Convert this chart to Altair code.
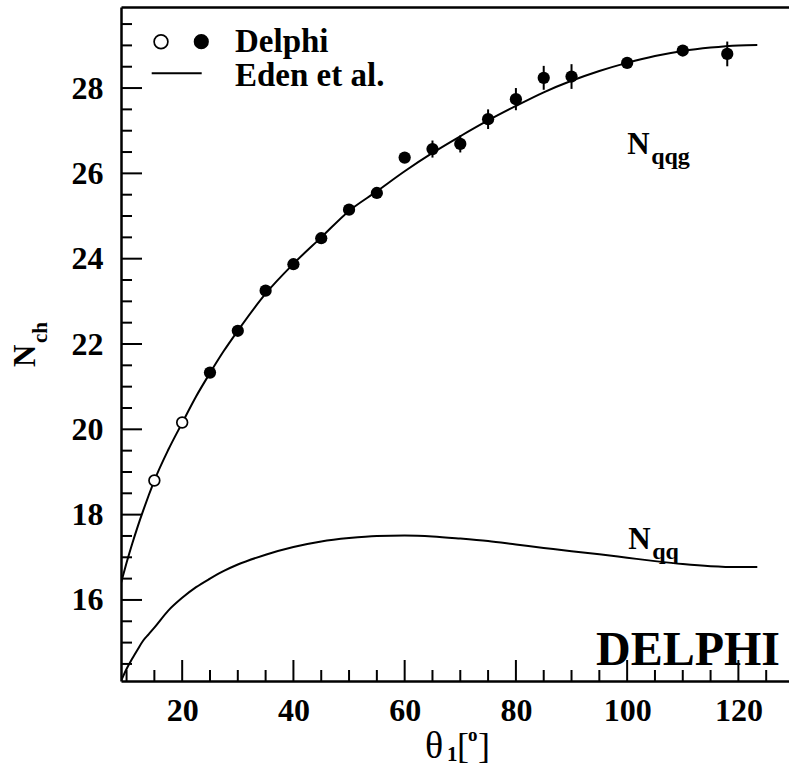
import altair as alt
import pandas as pd

# ---- measured multiplicities (open symbols: first two angles) ----
theta_open = [15, 20]
nch_open = [18.80, 20.16]
err_open = [0.08, 0.08]

theta_full = [25, 30, 35, 40, 45, 50, 55, 60, 65, 70, 75, 80, 85, 90, 100, 110, 118]
nch_full = [21.33, 22.31, 23.25, 23.87, 24.48, 25.15, 25.54, 26.37, 26.57, 26.69,
            27.27, 27.74, 28.24, 28.27, 28.59, 28.88, 28.80]
err_full = [0.08, 0.08, 0.08, 0.08, 0.08, 0.10, 0.10, 0.12, 0.20, 0.20,
            0.23, 0.26, 0.28, 0.29, 0.10, 0.10, 0.29]

# ---- Eden et al. predictions ----
theta_curve = [9, 10, 11, 12, 13, 14, 15, 17.5, 20, 22.5, 25, 27.5, 30, 35, 40, 45, 50,
               55, 60, 65, 70, 75, 80, 85, 90, 95, 100, 105, 110, 115, 120, 123.4]
n_qqg = [16.40, 16.87, 17.31, 17.72, 18.10, 18.46, 18.80, 19.52, 20.15, 20.77, 21.32,
         21.84, 22.31, 23.18, 23.88, 24.50, 25.12, 25.58, 26.05, 26.48, 26.87, 27.24,
         27.58, 27.90, 28.17, 28.40, 28.59, 28.75, 28.87, 28.95, 29.00, 29.01]
n_qq = [14.10, 14.38, 14.62, 14.84, 15.05, 15.20, 15.35, 15.75, 16.05, 16.30, 16.50,
        16.68, 16.83, 17.06, 17.24, 17.37, 17.45, 17.50, 17.51, 17.49, 17.44, 17.38,
        17.30, 17.22, 17.14, 17.07, 16.99, 16.91, 16.84, 16.79, 16.77, 16.77]

x_major = [20, 40, 60, 80, 100, 120]
x_minor = [10, 15, 25, 30, 35, 45, 50, 55, 65, 70, 75, 85, 90, 95, 105, 110, 115, 125]
y_major = [16, 18, 20, 22, 24, 26, 28]
y_minor = [14.5, 15, 15.5, 16.5, 17, 17.5, 18.5, 19, 19.5, 20.5, 21, 21.5, 22.5, 23,
           23.5, 24.5, 25, 25.5, 26.5, 27, 27.5, 28.5, 29, 29.5]

W, H = 668, 674
X_DOMAIN = [9, 129.1]
Y_DOMAIN = [14.1, 29.9]
SERIF = "Liberation Serif"
MAJOR, MINOR = 21, 11  # tick lengths in pixels

# pixels per data unit on each axis, used to turn tick lengths into data spans
PX_X = W / (X_DOMAIN[1] - X_DOMAIN[0])
PX_Y = H / (Y_DOMAIN[1] - Y_DOMAIN[0])

curves = pd.DataFrame({"theta": theta_curve, "qqg": n_qqg, "qq": n_qq})
pts_full = pd.DataFrame({"theta": theta_full, "n": nch_full, "e": err_full})
pts_open = pd.DataFrame({"theta": theta_open, "n": nch_open})

# every straight segment inside the frame: error bars plus inward ticks
seg_rows = []
for t, n, e in zip(theta_full, nch_full, err_full):
    seg_rows.append((t, t, n - e, n + e, "bar"))
for vals, length in ((x_major, MAJOR), (x_minor, MINOR)):
    for v in vals:
        seg_rows.append((v, v, Y_DOMAIN[0], Y_DOMAIN[0] + length / PX_Y, "tick"))
for vals, length in ((y_major, MAJOR), (y_minor, MINOR)):
    for v in vals:
        seg_rows.append((X_DOMAIN[0], X_DOMAIN[0] + length / PX_X, v, v, "tick"))
segments = pd.DataFrame(seg_rows, columns=["x0", "x1", "y0", "y1", "kind"])


def xs(field, axis=None):
    return alt.X(field, type="quantitative", axis=axis,
                 scale=alt.Scale(domain=X_DOMAIN, nice=False, zero=False))


def ys(field, axis=None):
    return alt.Y(field, type="quantitative", axis=axis,
                 scale=alt.Scale(domain=Y_DOMAIN, nice=False, zero=False))


label_style = dict(labelFont=SERIF, labelFontSize=32, labelFontWeight="bold",
                   labelColor="black", grid=False, title=None, labelOverlap=False,
                   ticks=False, tickSize=0, domain=True, domainWidth=2.5,
                   domainColor="black", format="d")

ax_x_labels = alt.Axis(orient="bottom", values=x_major, labelPadding=14, **label_style)
ax_y_labels = alt.Axis(orient="left", values=y_major, labelPadding=18, **label_style)
ax_x_frame = alt.Axis(orient="top", labels=False, ticks=False, grid=False, title=None,
                      domain=True, domainWidth=2.5, domainColor="black")

line_qqg = alt.Chart(curves).mark_line(color="black", strokeWidth=2, clip=True,
                                       interpolate="monotone").encode(
    x=xs("theta", ax_x_labels), y=ys("qqg", ax_y_labels))

line_qq = alt.Chart(curves).mark_line(color="black", strokeWidth=2, clip=True,
                                      interpolate="monotone").encode(
    x=xs("theta", ax_x_frame), y=ys("qq"))

segs = alt.Chart(segments).mark_rule(strokeWidth=2).encode(
    x=xs("x0"), x2="x1", y=ys("y0"), y2="y1",
    color=alt.Color("kind:N", legend=None,
                    scale=alt.Scale(domain=["bar", "tick"],
                                    range=["black", "black"])))

dots_full = alt.Chart(pts_full).mark_point(shape="circle", filled=True, color="black",
                                           size=150, opacity=1).encode(
    x=xs("theta"), y=ys("n"))

dots_open = alt.Chart(pts_open).mark_point(shape="circle", filled=False, color="black",
                                           fill="white", strokeWidth=1.7, size=115,
                                           opacity=1).encode(
    x=xs("theta"), y=ys("n"))

# curve annotations in data coordinates
ann = pd.DataFrame({"theta": [100.0, 100.2], "n": [26.45, 17.20],
                    "big": ["N", "N"], "sub": ["qqg", "qq"]})
ann_big = alt.Chart(ann).mark_text(font=SERIF, fontSize=31, fontWeight="bold",
                                   align="left", baseline="alphabetic",
                                   color="black").encode(
    x=xs("theta"), y=ys("n"), text="big:N")
ann_sub = alt.Chart(ann).mark_text(font=SERIF, fontSize=24, fontWeight="bold",
                                   align="left", baseline="alphabetic", dx=24, dy=10,
                                   color="black").encode(
    x=xs("theta"), y=ys("n"), text="sub:N")

one = pd.DataFrame({"k": [0]})


def label(text, px, py, size, weight="bold", angle=0, align="left"):
    return alt.Chart(one).mark_text(text=text, font=SERIF, fontSize=size,
                                    fontWeight=weight, angle=angle, align=align,
                                    baseline="alphabetic", color="black").encode(
        x=alt.value(px), y=alt.value(py))


# legend
leg_open = alt.Chart(one).mark_point(shape="circle", filled=False, color="black",
                                     fill="white", strokeWidth=1.7, size=190,
                                     opacity=1).encode(x=alt.value(40), y=alt.value(34.7))
leg_full = alt.Chart(one).mark_point(shape="circle", filled=True, color="black",
                                     size=230, opacity=1).encode(
    x=alt.value(80.3), y=alt.value(34.7))
leg_line = alt.Chart(one).mark_rule(color="black", strokeWidth=2).encode(
    x=alt.value(30.7), x2=alt.value(80.7), y=alt.value(66.3))

texts = [
    label("Delphi", 114, 45, 33),
    label("Eden et al.", 114, 79, 33),
    label("DELPHI", 659, 658, 48, align="right"),
    # axis titles
    label("N", -86, 360, 31, angle=270),
    label("ch", -74, 336, 21, angle=270),
    label("\u03b8", 304, 751, 38, weight="normal"),
    label("1", 326, 754, 21),
    label("[", 336, 751, 36, weight="normal"),
    label("o", 347, 734, 19),
    label("]", 357, 751, 36, weight="normal"),
]

chart = alt.layer(
    line_qqg, line_qq, segs, dots_full, dots_open, ann_big, ann_sub,
    leg_open, leg_full, leg_line, *texts
).resolve_scale(
    x="independent", y="independent", color="independent"
).properties(
    width=W, height=H,
    autosize=alt.AutoSizeParams(type="none"),
    padding={"left": 121, "top": 7, "right": 0, "bottom": 84},
    background="white",
).configure_view(stroke=None)

chart.save("out.html", embed_options={"renderer": "svg", "actions": False})
